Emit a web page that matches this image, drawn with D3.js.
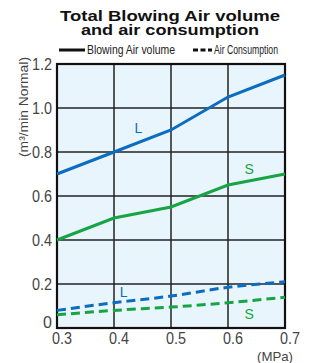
<!DOCTYPE html>
<html>
<head>
<meta charset="utf-8">
<script src="https://cdn.jsdelivr.net/npm/d3@7"></script>
<style>
  body { margin: 0; background: #fff; }
  text { font-family: "Liberation Sans", Arial, sans-serif; }
</style>
</head>
<body>
<div id="chart"></div>
<script>
// Datos
var pressures = [0.3, 0.4, 0.5, 0.6, 0.7];
var blowingL = [0.70, 0.80, 0.90, 1.05, 1.15];
var blowingS = [0.40, 0.50, 0.55, 0.65, 0.70];
var consumL = [0.08, 0.115, 0.145, 0.185, 0.21];
var consumS = [0.06, 0.08, 0.095, 0.115, 0.14];
var xTicks = [0.3, 0.4, 0.5, 0.6, 0.7];
var yTicks = [0, 0.2, 0.4, 0.6, 0.8, 1.0, 1.2];

var blue = "#0b6cc0", green = "#17a544";

var svg = d3.select("#chart").append("svg")
  .attr("width", 310).attr("height", 363);

var x = d3.scaleLinear().domain([0.3, 0.7]).range([57, 285]);
var y = d3.scaleLinear().domain([0, 1.2]).range([328, 64]);

// fondo
svg.append("rect")
  .attr("x", x(0.3)).attr("y", y(1.2))
  .attr("width", x(0.7) - x(0.3)).attr("height", y(0) - y(1.2))
  .attr("fill", "#e9f5fd");

// rejilla
svg.append("g").selectAll("line").data(yTicks).enter().append("line")
  .attr("x1", x(0.3)).attr("x2", x(0.7))
  .attr("y1", function(d) { return y(d); }).attr("y2", function(d) { return y(d); })
  .attr("stroke", "#222").attr("stroke-width", 1.5);
svg.append("g").selectAll("line").data(xTicks).enter().append("line")
  .attr("y1", y(0)).attr("y2", y(1.2))
  .attr("x1", function(d) { return x(d); }).attr("x2", function(d) { return x(d); })
  .attr("stroke", "#222").attr("stroke-width", 1.5);

// borde
svg.append("rect")
  .attr("x", x(0.3)).attr("y", y(1.2))
  .attr("width", x(0.7) - x(0.3)).attr("height", y(0) - y(1.2))
  .attr("fill", "none").attr("stroke", "#111").attr("stroke-width", 2.2);

// etiquetas de ejes
svg.append("g").selectAll("text").data(yTicks).enter().append("text")
  .attr("x", 52).attr("y", function(d) { return d === 0 ? y(d) : y(d) + 6; })
  .attr("text-anchor", "end").attr("font-size", 16).attr("fill", "#444")
  .attr("textLength", function(d) { return d === 0 ? null : 20; })
  .attr("lengthAdjust", "spacingAndGlyphs")
  .text(function(d) { return d === 0 ? "0" : d.toFixed(1); });
svg.append("g").selectAll("text").data(xTicks).enter().append("text")
  .attr("x", function(d) { return x(d) - 5; }).attr("y", 344)
  .attr("font-size", 16).attr("fill", "#444")
  .attr("textLength", 20).attr("lengthAdjust", "spacingAndGlyphs")
  .text(function(d) { return d.toFixed(1); });

svg.append("text")
  .attr("x", 257).attr("y", 361)
  .attr("font-size", 13).attr("fill", "#444")
  .attr("textLength", 36).attr("lengthAdjust", "spacingAndGlyphs")
  .text("(MPa)");

svg.append("text")
  .attr("transform", "translate(28,107) rotate(-90)")
  .attr("text-anchor", "middle").attr("font-size", 13).attr("fill", "#444")
  .attr("textLength", 100).attr("lengthAdjust", "spacingAndGlyphs")
  .text("(m³/min Normal)");

// titulo
svg.append("text").attr("x", 170).attr("y", 21).attr("text-anchor", "middle")
  .attr("font-size", 15.5).attr("font-weight", "bold").attr("fill", "#111")
  .attr("textLength", 220).attr("lengthAdjust", "spacingAndGlyphs")
  .text("Total Blowing Air volume");
svg.append("text").attr("x", 170).attr("y", 34.5).attr("text-anchor", "middle")
  .attr("font-size", 15.5).attr("font-weight", "bold").attr("fill", "#111")
  .attr("textLength", 178).attr("lengthAdjust", "spacingAndGlyphs")
  .text("and air consumption");

// leyenda
svg.append("line").attr("x1", 59).attr("x2", 85).attr("y1", 50).attr("y2", 50)
  .attr("stroke", "#111").attr("stroke-width", 3);
svg.append("text").attr("x", 87).attr("y", 54).attr("font-size", 12).attr("fill", "#222")
  .attr("textLength", 88).attr("lengthAdjust", "spacingAndGlyphs")
  .text("Blowing Air volume");
svg.append("line").attr("x1", 193).attr("x2", 212).attr("y1", 50).attr("y2", 50)
  .attr("stroke", "#111").attr("stroke-width", 3).attr("stroke-dasharray", "5,2.5");
svg.append("text").attr("x", 214).attr("y", 54).attr("font-size", 12).attr("fill", "#222")
  .attr("textLength", 64).attr("lengthAdjust", "spacingAndGlyphs")
  .text("Air Consumption");

// series
var series = [
  {vals: blowingL, color: blue, dash: null},
  {vals: blowingS, color: green, dash: null},
  {vals: consumL, color: blue, dash: "9,5"},
  {vals: consumS, color: green, dash: "9,5"}
];
var solid = d3.line().x(function(d, i) { return x(pressures[i]); }).y(function(d) { return y(d); });
var curved = d3.line().curve(d3.curveMonotoneX)
  .x(function(d, i) { return x(pressures[i]); }).y(function(d) { return y(d); });

svg.append("g").selectAll("path").data(series).enter().append("path")
  .attr("d", function(s) { return s.dash ? curved(s.vals) : solid(s.vals); })
  .attr("fill", "none").attr("stroke", function(s) { return s.color; })
  .attr("stroke-width", 3).attr("stroke-dasharray", function(s) { return s.dash; });

// etiquetas L / S
var tags = [
  {t: "L", px: 0.443, py: 0.885, c: blue},
  {t: "S", px: 0.637, py: 0.70, c: green},
  {t: "L", px: 0.417, py: 0.14, c: blue},
  {t: "S", px: 0.637, py: 0.04, c: green}
];
svg.append("g").selectAll("text").data(tags).enter().append("text")
  .attr("x", function(d) { return x(d.px); }).attr("y", function(d) { return y(d.py); })
  .attr("text-anchor", "middle").attr("font-size", 14)
  .attr("fill", function(d) { return d.c; }).text(function(d) { return d.t; });
</script>
</body>
</html>
